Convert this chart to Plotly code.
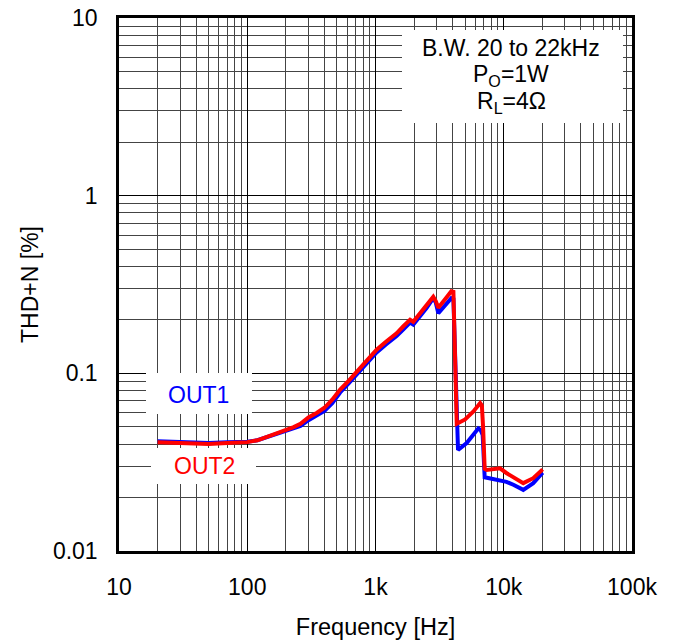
import plotly.graph_objects as go

# THD+N vs frequency
freq_out1 = [20, 30, 50, 70, 100, 120, 150, 190, 230, 260, 300, 350, 400, 460, 530, 620,
             710, 850, 1020, 1200, 1460, 1650, 1860, 1970, 2200, 2500, 2820, 2950, 3090,
             3500, 3900, 4050, 4250, 4400, 5140, 5800, 6340, 6600, 6850, 7100, 7810,
             9350, 10500, 11880, 14200, 16980, 19770, 20100]
thd_out1 = [0.0415, 0.041, 0.0405, 0.041, 0.0412, 0.042, 0.0443, 0.0465, 0.049, 0.0505,
            0.0545, 0.058, 0.0615, 0.068, 0.078, 0.088, 0.098, 0.112, 0.131, 0.145,
            0.162, 0.177, 0.193, 0.188, 0.206, 0.233, 0.265, 0.25, 0.218, 0.24, 0.265,
            0.262, 0.1, 0.037, 0.0405, 0.045, 0.049, 0.048, 0.045, 0.026, 0.0256, 0.0251,
            0.0245, 0.0236, 0.0221, 0.0241, 0.0274, 0.0276]

freq_out2 = [20, 30, 50, 70, 100, 120, 150, 190, 230, 260, 300, 350, 400, 460, 530, 620,
             710, 850, 1020, 1200, 1460, 1650, 1860, 1970, 2200, 2500, 2820, 2950, 3090,
             3500, 3900, 4050, 4200, 4300, 5000, 5800, 6550, 6750, 6900, 7100, 7360,
             9350, 10550, 12000, 14200, 16980, 20100]
thd_out2 = [0.041, 0.0405, 0.040, 0.0405, 0.041, 0.042, 0.0445, 0.047, 0.0498, 0.052,
            0.0565, 0.06, 0.064, 0.071, 0.081, 0.091, 0.102, 0.117, 0.136, 0.150,
            0.168, 0.184, 0.200, 0.195, 0.215, 0.242, 0.270, 0.255, 0.234, 0.262, 0.290,
            0.288, 0.12, 0.052, 0.055, 0.061, 0.068, 0.066, 0.05, 0.029, 0.0286, 0.0292,
            0.0274, 0.026, 0.0241, 0.0257, 0.0288]

x_ticks = [10, 100, 1000, 10000, 100000]
x_labels = ["10", "100", "1k", "10k", "100k"]
y_ticks = [0.01, 0.1, 1, 10]
y_labels = ["0.01", "0.1", "1", "10"]

x_minor = [m * 10 ** e for e in range(1, 5) for m in range(2, 10)]
y_minor = [m * 10 ** e for e in range(-2, 1) for m in range(2, 10)]

info_lines = ["B.W. 20 to 22kHz", "P<sub>O</sub>=1W", "R<sub>L</sub>=4Ω"]

FONT = "Liberation Sans, Arial, sans-serif"

W, H = 677, 641
L, T, PW, PH = 119, 18, 513, 533  # plot area in pixels


def px(x):
    return (x - L) / PW


def py(y):
    return (T + PH - y) / PH


fig = go.Figure()

fig.add_trace(go.Scatter(x=freq_out1, y=thd_out1, mode="lines", name="OUT1",
                         line=dict(color="#0000FF", width=4)))
fig.add_trace(go.Scatter(x=freq_out2, y=thd_out2, mode="lines", name="OUT2",
                         line=dict(color="#FF0000", width=4)))

axis_common = dict(
    type="log", automargin=False,
    showline=True, linecolor="black", linewidth=2.5, mirror=True,
    showgrid=True, gridcolor="black", gridwidth=1.3,
    ticks="", tickfont=dict(family=FONT, size=23, color="black"),
    tickmode="array",
    zeroline=False,
)

fig.update_xaxes(
    **axis_common,
    range=[1, 5],
    tickvals=x_ticks, ticktext=x_labels,
    ticklabelstandoff=14,
    minor=dict(tickmode="array", tickvals=x_minor, showgrid=True,
               gridcolor="#444444", gridwidth=1.3, ticks=""),
    title=dict(text="Frequency [Hz]", font=dict(family=FONT, size=23.5, color="black"),
               standoff=20),
)
fig.update_yaxes(
    **axis_common,
    range=[-2, 1],
    tickvals=y_ticks, ticktext=y_labels,
    ticklabelstandoff=14,
    minor=dict(tickmode="array", tickvals=y_minor, showgrid=True,
               gridcolor="#444444", gridwidth=1.3, ticks=""),
    title=dict(text="THD+N [%]", font=dict(family=FONT, size=23, color="black"),
               standoff=8),
)

# white boxes behind the labels (hide the grid)
boxes = [(146, 373, 252, 414), (151, 448, 256, 484), (402, 30, 623, 123)]
for x0, y0, x1, y1 in boxes:
    fig.add_shape(type="rect", xref="paper", yref="paper", layer="above",
                  x0=px(x0), x1=px(x1), y0=py(y1), y1=py(y0),
                  fillcolor="white", line=dict(width=0))

ann_font = dict(family=FONT, size=23)
fig.add_annotation(xref="paper", yref="paper", x=px(198), y=py(395),
                   xanchor="center", yanchor="middle",
                   text="OUT1", showarrow=False, font=dict(color="#0000FF", **ann_font))
fig.add_annotation(xref="paper", yref="paper", x=px(204), y=py(466),
                   xanchor="center", yanchor="middle",
                   text="OUT2", showarrow=False, font=dict(color="#FF0000", **ann_font))
for i, line in enumerate(info_lines):
    fig.add_annotation(xref="paper", yref="paper", x=px(511), y=py(48 + 27 * i),
                       xanchor="center", yanchor="middle",
                       text=line, showarrow=False, font=dict(color="black", **ann_font))

fig.update_layout(
    width=W, height=H,
    margin=dict(l=L, r=W - L - PW, t=T, b=H - T - PH),
    paper_bgcolor="white", plot_bgcolor="white",
    showlegend=False,
    font=dict(family=FONT, color="black"),
)

# drop the browser's default 8px body margin so the figure fills the window
fig.write_html("out.html", config={"displayModeBar": False},
               post_script="document.body.style.margin='0';")
